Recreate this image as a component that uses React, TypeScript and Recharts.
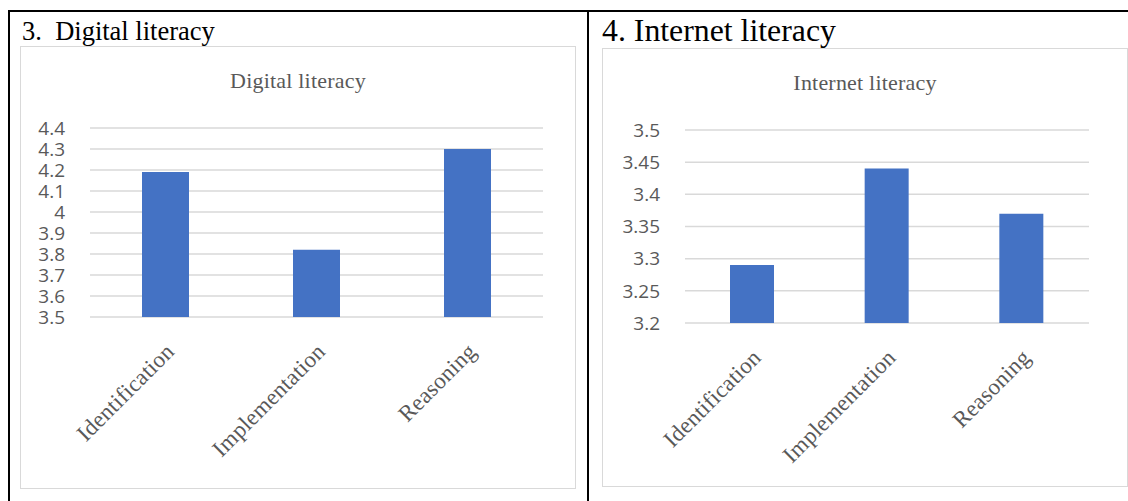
import { BarChart, Bar, XAxis, YAxis, CartesianGrid } from "recharts"

const categories = ["Identification", "Implementation", "Reasoning"]
const digitalValues = [4.19, 3.82, 4.3]
const internetValues = [3.29, 3.44, 3.37]
const digitalTicks = [3.5, 3.6, 3.7, 3.8, 3.9, 4, 4.1, 4.2, 4.3, 4.4]
const internetTicks = [3.2, 3.25, 3.3, 3.35, 3.4, 3.45, 3.5]

const BAR = "#4472c4"
const GRID = "#d9d9d9"
const TEXT = "#595959"
const SERIF = "'Liberation Serif', 'Times New Roman', serif"
const SANS = "'Open Sans', 'Noto Sans', sans-serif"

const digitalData = categories.map((name, i) => ({ name, value: digitalValues[i] }))
const internetData = categories.map((name, i) => ({ name, value: internetValues[i] }))

function CategoryTick(props: any) {
  const { x, y, payload } = props
  return (
    <g transform={`translate(${x + 10},${y + 28})`}>
      <text
        textAnchor="end"
        transform="rotate(-45)"
        fill={TEXT}
        fontFamily={SERIF}
        fontSize={23}
        letterSpacing={0.2}
      >
        {payload.value}
      </text>
    </g>
  )
}

type PanelProps = {
  data: { name: string; value: number }[]
  ticks: number[]
  left: number
  top: number
  width: number
  height: number
  yWidth: number
  margin: { top: number; right: number; bottom: number; left: number }
  barSize: number
  title: string
}

function Panel({ data, ticks, left, top, width, height, yWidth, margin, barSize, title }: PanelProps) {
  return (
    <div
      style={{
        position: "absolute",
        left,
        top,
        width: width - 2,
        height: height - 2,
        border: "1px solid #d9d9d9",
      }}
    >
      <div
        style={{
          position: "absolute",
          left: 0,
          top: 23,
          width: width - 2,
          textAlign: "center",
          fontFamily: SERIF,
          fontSize: 22,
          letterSpacing: 0.2,
          lineHeight: "22px",
          color: TEXT,
        }}
      >
        {title}
      </div>
      <div style={{ position: "absolute", left: -1, top: -1 }}>
        <BarChart width={width} height={height} data={data} margin={margin}>
          <CartesianGrid vertical={false} stroke={GRID} strokeWidth={1.5} />
          <XAxis
            dataKey="name"
            axisLine={false}
            tickLine={false}
            tick={<CategoryTick />}
            interval={0}
            height={10}
          />
          <YAxis
            width={yWidth}
            domain={[ticks[0], ticks[ticks.length - 1]]}
            ticks={ticks}
            interval={0}
            axisLine={false}
            tickLine={false}
            tickSize={0}
            tickMargin={25}
            tick={{ fill: TEXT, fontSize: 19, fontFamily: SANS }}
          />
          <Bar dataKey="value" fill={BAR} barSize={barSize} isAnimationActive={false} />
        </BarChart>
      </div>
    </div>
  )
}

export default function App() {
  return (
    <div
      style={{
        position: "absolute",
        left: 0,
        top: 0,
        width: 1128,
        height: 501,
        background: "#fff",
        overflow: "hidden",
      }}
    >
      {/* table borders */}
      <div style={{ position: "absolute", left: 8, top: 10, width: 1120, height: 2, background: "#000" }} />
      <div style={{ position: "absolute", left: 8, top: 10, width: 2, height: 491, background: "#000" }} />
      <div style={{ position: "absolute", left: 587, top: 10, width: 2, height: 491, background: "#000" }} />

      <div
        style={{
          position: "absolute",
          left: 22,
          top: 18,
          fontFamily: SERIF,
          fontSize: 26.5,
          lineHeight: "26px",
          whiteSpace: "pre",
          color: "#000",
        }}
      >
        {"3.  Digital literacy"}
      </div>
      <div
        style={{
          position: "absolute",
          left: 602,
          top: 15,
          fontFamily: SERIF,
          fontSize: 31.8,
          lineHeight: "31px",
          whiteSpace: "pre",
          color: "#000",
        }}
      >
        {"4. Internet literacy"}
      </div>

      <Panel
        data={digitalData}
        ticks={digitalTicks}
        left={20}
        top={46}
        width={556}
        height={443}
        yWidth={70}
        margin={{ top: 82, right: 33, bottom: 162, left: 0 }}
        barSize={47}
        title="Digital literacy"
      />
      <Panel
        data={internetData}
        ticks={internetTicks}
        left={602}
        top={48}
        width={526}
        height={439}
        yWidth={83}
        margin={{ top: 82, right: 39, bottom: 154, left: 0 }}
        barSize={44}
        title="Internet literacy"
      />
    </div>
  )
}
